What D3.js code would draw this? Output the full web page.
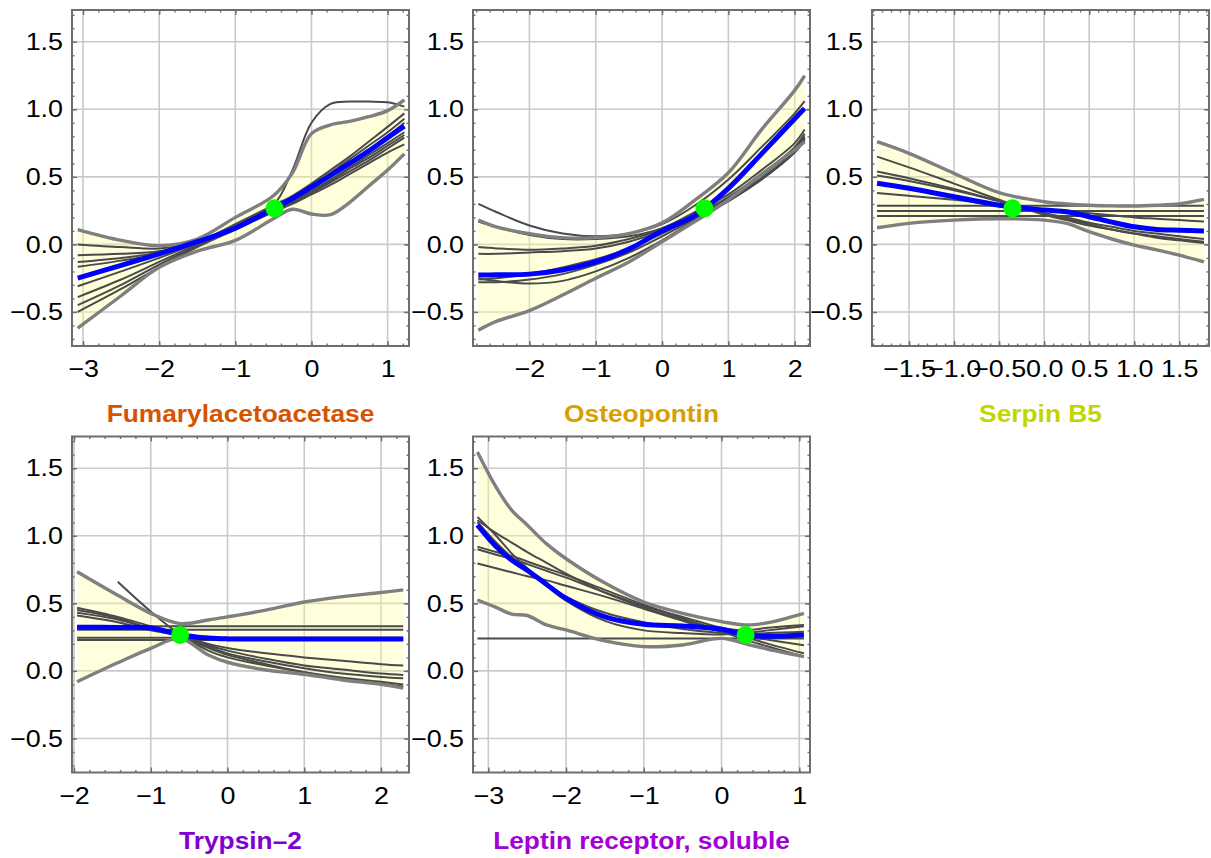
<!DOCTYPE html>
<html>
<head>
<meta charset="utf-8">
<script src="https://cdn.jsdelivr.net/npm/d3@7"></script>
<style>
body { margin: 0; background: #fff; }
text { font-family: "Liberation Sans", Arial, sans-serif; }
</style>
</head>
<body>
<script>
var w = 1211; // page width
var h = 858; // page height

// panel titles and colours
var titles = ["Fumarylacetoacetase", "Osteopontin", "Serpin B5", "Trypsin\u20132", "Leptin receptor, soluble"];
var titleColors = ["#d65300", "#d99e00", "#c0d600", "#8000d4", "#a200d4"];

// y axis, shared by every panel
var yTicks = [-0.5, 0, 0.5, 1, 1.5];
var yRange = [-0.752, 1.735];

// panel 1: Fumarylacetoacetase
var xTicks1 = [-3, -2, -1, 0, 1];
var xRange1 = [-3.145, 1.281];
var xs1 = [-3.07, -2.5, -2, -1.5, -1, -0.5, -0.25, 0, 0.25, 0.5, 0.75, 1, 1.22];
var blue1 = [-0.25, -0.155, -0.07, 0.02, 0.12, 0.265, 0.34, 0.425, 0.51, 0.6, 0.69, 0.79, 0.875];
var upper1 = [0.11, 0.03, -0.01, 0.04, 0.2, 0.36, 0.53, 0.82, 0.885, 0.91, 0.945, 0.99, 1.07];
var lower1 = [-0.62, -0.38, -0.17, -0.05, 0.03, 0.19, 0.26, 0.225, 0.22, 0.31, 0.43, 0.55, 0.67];
var thin1 = [
  [-0.50, -0.33, -0.17, -0.02, 0.11, 0.24, 0.30, 0.37, 0.44, 0.52, 0.60, 0.68, 0.74],
  [-0.45, -0.30, -0.15, -0.01, 0.12, 0.25, 0.31, 0.38, 0.46, 0.54, 0.62, 0.71, 0.79],
  [-0.39, -0.26, -0.13, 0.00, 0.13, 0.26, 0.32, 0.39, 0.47, 0.56, 0.64, 0.73, 0.81],
  [-0.31, -0.20, -0.10, 0.01, 0.13, 0.27, 0.33, 0.40, 0.48, 0.57, 0.66, 0.75, 0.83],
  [-0.165, -0.12, -0.07, 0.01, 0.13, 0.27, 0.34, 0.42, 0.51, 0.60, 0.70, 0.80, 0.90],
  [-0.13, -0.10, -0.06, 0.015, 0.14, 0.28, 0.35, 0.44, 0.53, 0.63, 0.73, 0.83, 0.93],
  [0.00, -0.02, -0.03, 0.02, 0.15, 0.29, 0.36, 0.45, 0.55, 0.65, 0.76, 0.87, 0.97],
  [-0.08, -0.07, -0.05, 0.01, 0.13, 0.29, 0.55, 0.90, 1.04, 1.057, 1.057, 1.052, 1.02]
];
var dot1 = [-0.485, 0.267];

// panel 2: Osteopontin
var xTicks2 = [-2, -1, 0, 1, 2];
var xRange2 = [-2.851, 2.231];
var xs2 = [-2.77, -2.5, -2, -1.5, -1, -0.5, 0, 0.5, 1, 1.5, 2, 2.15];
var blue2 = [-0.227, -0.225, -0.22, -0.19, -0.13, -0.035, 0.1, 0.215, 0.415, 0.67, 0.93, 1.007];
var upper2 = [0.18, 0.13, 0.08, 0.05, 0.05, 0.08, 0.16, 0.33, 0.53, 0.85, 1.14, 1.25];
var lower2 = [-0.635, -0.57, -0.49, -0.375, -0.25, -0.13, 0.02, 0.17, 0.33, 0.52, 0.7, 0.76];
var thin2 = [
  [0.30, 0.24, 0.14, 0.08, 0.06, 0.08, 0.15, 0.29, 0.48, 0.72, 0.97, 1.06],
  [0.17, 0.13, 0.07, 0.04, 0.04, 0.06, 0.12, 0.24, 0.37, 0.55, 0.75, 0.85],
  [-0.02, -0.03, -0.04, -0.03, -0.01, 0.04, 0.11, 0.22, 0.35, 0.52, 0.72, 0.82],
  [-0.07, -0.07, -0.06, -0.05, -0.03, 0.02, 0.10, 0.21, 0.34, 0.51, 0.71, 0.80],
  [-0.26, -0.25, -0.22, -0.17, -0.11, -0.03, 0.08, 0.20, 0.33, 0.49, 0.69, 0.78],
  [-0.28, -0.28, -0.26, -0.22, -0.15, -0.06, 0.06, 0.19, 0.32, 0.48, 0.68, 0.77],
  [-0.25, -0.27, -0.29, -0.27, -0.20, -0.10, 0.03, 0.18, 0.32, 0.48, 0.69, 0.79]
];
var dot2 = [0.64, 0.267];

// panel 3: Serpin B5
var xTicks3 = [-1.5, -1, -0.5, 0, 0.5, 1, 1.5];
var xRange3 = [-1.911, 1.830];
var xs3 = [-1.855, -1.5, -1, -0.5, 0, 0.25, 0.5, 0.75, 1, 1.25, 1.5, 1.774];
var blue3 = [0.452, 0.415, 0.353, 0.29, 0.254, 0.242, 0.205, 0.165, 0.13, 0.11, 0.105, 0.10];
var upper3 = [0.76, 0.674, 0.526, 0.383, 0.316, 0.30, 0.29, 0.285, 0.284, 0.29, 0.30, 0.333];
var lower3 = [0.123, 0.156, 0.18, 0.19, 0.18, 0.155, 0.094, 0.04, -0.005, -0.04, -0.08, -0.13];
var thin3 = [
  [0.65, 0.57, 0.45, 0.33, 0.22, 0.18, 0.14, 0.11, 0.08, 0.06, 0.04, 0.02],
  [0.54, 0.49, 0.41, 0.32, 0.23, 0.19, 0.15, 0.11, 0.08, 0.05, 0.03, 0.01],
  [0.51, 0.47, 0.40, 0.32, 0.23, 0.20, 0.16, 0.13, 0.10, 0.08, 0.06, 0.04],
  [0.38, 0.36, 0.33, 0.29, 0.26, 0.245, 0.23, 0.215, 0.20, 0.19, 0.18, 0.17],
  [0.287, 0.287, 0.287, 0.287, 0.287, 0.287, 0.287, 0.287, 0.287, 0.287, 0.287, 0.287],
  [0.248, 0.248, 0.248, 0.248, 0.248, 0.248, 0.248, 0.248, 0.248, 0.248, 0.248, 0.248],
  [0.21, 0.21, 0.21, 0.21, 0.21, 0.21, 0.21, 0.21, 0.21, 0.21, 0.21, 0.21]
];
var dot3 = [-0.352, 0.267];

// panel 4: Trypsin-2
var xTicks4 = [-2, -1, 0, 1, 2];
var xRange4 = [-2.026, 2.365];
var xs4 = [-1.96, -1.43, -1, -0.62, -0.25, 0, 0.5, 1, 1.5, 2, 2.29];
var blue4 = [0.323, 0.322, 0.318, 0.268, 0.243, 0.237, 0.237, 0.237, 0.237, 0.237, 0.236];
var upper4 = [0.734, 0.56, 0.426, 0.35, 0.377, 0.40, 0.45, 0.51, 0.55, 0.58, 0.60];
var lower4 = [-0.08, 0.06, 0.167, 0.24, 0.118, 0.064, 0.007, -0.025, -0.067, -0.1, -0.128];
var thin4 = [
  [0.468, 0.40, 0.33, 0.27, 0.20, 0.17, 0.13, 0.10, 0.075, 0.05, 0.04],
  [0.43, 0.38, 0.31, 0.26, 0.19, 0.15, 0.09, 0.04, 0.01, -0.02, -0.03],
  [0.41, 0.36, 0.30, 0.26, 0.18, 0.13, 0.07, 0.02, -0.02, -0.045, -0.055],
  [null, 0.66, 0.44, 0.27, 0.15, 0.10, 0.04, -0.01, -0.05, -0.08, -0.10],
  [0.45, 0.39, 0.31, 0.255, 0.17, 0.12, 0.05, -0.01, -0.06, -0.095, -0.115],
  [0.33, 0.33, 0.33, 0.33, 0.33, 0.33, 0.33, 0.33, 0.33, 0.33, 0.33],
  [0.305, 0.305, 0.305, 0.305, 0.305, 0.305, 0.305, 0.305, 0.305, 0.305, 0.305],
  [0.245, 0.245, 0.245, 0.245, 0.245, 0.245, 0.245, 0.245, 0.245, 0.245, 0.245],
  [0.228, 0.228, 0.228, 0.228, 0.228, 0.228, 0.228, 0.228, 0.228, 0.228, 0.228]
];
var dot4 = [-0.617, 0.266];

// panel 5: Leptin receptor, soluble
var xTicks5 = [-3, -2, -1, 0, 1];
var xRange5 = [-3.197, 1.138];
var xs5 = [-3.14, -2.9, -2.7, -2.5, -2.25, -2, -1.5, -1, -0.5, 0, 0.31, 0.6, 1.06];
var blue5 = [1.08, 0.92, 0.82, 0.745, 0.64, 0.537, 0.40, 0.345, 0.333, 0.308, 0.266, 0.256, 0.266];
var upper5 = [1.62, 1.36, 1.19, 1.08, 0.94, 0.83, 0.65, 0.51, 0.426, 0.365, 0.34, 0.357, 0.426];
var lower5 = [0.525, 0.47, 0.42, 0.41, 0.34, 0.303, 0.222, 0.18, 0.192, 0.241, 0.2, 0.16, 0.106];
var thin5 = [
  [1.14, 1.00, 0.87, 0.76, 0.63, 0.52, 0.37, 0.30, 0.28, 0.27, 0.28, 0.30, 0.33],
  [1.115, 1.02, 0.95, 0.88, 0.80, 0.72, 0.58, 0.47, 0.38, 0.30, 0.25, 0.20, 0.13],
  [0.92, 0.88, 0.85, 0.81, 0.76, 0.71, 0.60, 0.49, 0.39, 0.29, 0.23, 0.18, 0.106],
  [0.795, 0.76, 0.73, 0.70, 0.67, 0.63, 0.55, 0.46, 0.37, 0.29, 0.26, 0.23, 0.19],
  [0.90, 0.86, 0.83, 0.79, 0.74, 0.69, 0.58, 0.48, 0.40, 0.32, 0.30, 0.32, 0.34],
  [0.24, 0.24, 0.24, 0.24, 0.24, 0.24, 0.24, 0.24, 0.24, 0.24, 0.24, 0.24, 0.24],
  [1.10, 0.95, 0.84, 0.74, 0.64, 0.55, 0.43, 0.36, 0.31, 0.28, 0.27, 0.28, 0.29]
];
var dot5 = [0.31, 0.266];

// table the drawing loop walks over
var panels = [
  { xs: xs1, blue: blue1, upper: upper1, lower: lower1, thin: thin1, dot: dot1, xTicks: xTicks1, xRange: xRange1, minor: 0.2, fmt: "d" },
  { xs: xs2, blue: blue2, upper: upper2, lower: lower2, thin: thin2, dot: dot2, xTicks: xTicks2, xRange: xRange2, minor: 0.2, fmt: "d" },
  { xs: xs3, blue: blue3, upper: upper3, lower: lower3, thin: thin3, dot: dot3, xTicks: xTicks3, xRange: xRange3, minor: 0.1, fmt: ".1f" },
  { xs: xs4, blue: blue4, upper: upper4, lower: lower4, thin: thin4, dot: dot4, xTicks: xTicks4, xRange: xRange4, minor: 0.2, fmt: "d" },
  { xs: xs5, blue: blue5, upper: upper5, lower: lower5, thin: thin5, dot: dot5, xTicks: xTicks5, xRange: xRange5, minor: 0.2, fmt: "d" }
];

// frame positions (left, top) and size
var frames = [[72, 10], [473, 10], [872, 10], [72, 436.5], [473, 436.5]];
var fw = 337, fh = 336;
var stretch = 1.12; // text in the picture is drawn a little wide

var svg = d3.select("body").append("svg").attr("width", w).attr("height", h);

// minor tick values between lo and hi
function minorTicks(lo, hi, step) {
  return d3.range(Math.ceil(lo / step - 1e-9), Math.floor(hi / step + 1e-9) + 1).map(function (k) { return +(k * step).toFixed(3); });
}

function styleAxis(sel) {
  sel.select(".domain").remove();
  sel.selectAll("line").attr("stroke", "#6e6e6e").attr("stroke-width", 1.4);
  sel.selectAll("text").attr("font-size", 24).attr("fill", "#000")
    .attr("font-family", "'Liberation Sans', Arial, sans-serif")
    .attr("transform", "scale(" + stretch + ",1)");
}

panels.forEach(function (p, i) {
  var left = frames[i][0], top = frames[i][1];
  var x = d3.scaleLinear().domain(p.xRange).range([left, left + fw]);
  var y = d3.scaleLinear().domain(yRange).range([top + fh, top]);
  var g = svg.append("g");

  // grid lines
  g.selectAll(".vg").data(p.xTicks).enter().append("line")
    .attr("x1", function (d) { return x(d); }).attr("x2", function (d) { return x(d); })
    .attr("y1", top).attr("y2", top + fh)
    .attr("stroke", "#cacaca").attr("stroke-width", 1.6);
  g.selectAll(".hg").data(yTicks).enter().append("line")
    .attr("y1", function (d) { return y(d); }).attr("y2", function (d) { return y(d); })
    .attr("x1", left).attr("x2", left + fw)
    .attr("stroke", "#cacaca").attr("stroke-width", 1.6);

  // clip to frame
  svg.append("clipPath").attr("id", "clip" + i).append("rect")
    .attr("x", left).attr("y", top).attr("width", fw).attr("height", fh);
  var plot = g.append("g").attr("clip-path", "url(#clip" + i + ")");

  var curve = d3.curveCatmullRom.alpha(0.5);
  var line = d3.line()
    .defined(function (d) { return d[1] != null; })
    .x(function (d) { return x(d[0]); })
    .y(function (d) { return y(d[1]); })
    .curve(curve);
  var area = d3.area()
    .x(function (d) { return x(d[0]); })
    .y0(function (d) { return y(d[1]); })
    .y1(function (d) { return y(d[2]); })
    .curve(curve);
  function pts(ys) { return p.xs.map(function (xv, k) { return [xv, ys[k]]; }); }

  // confidence band
  plot.append("path")
    .datum(p.xs.map(function (xv, k) { return [xv, p.lower[k], p.upper[k]]; }))
    .attr("d", area).attr("fill", "#ffff99").attr("fill-opacity", 0.35);

  // individual curves
  plot.selectAll(".thin").data(p.thin).enter().append("path")
    .attr("d", function (d) { return line(pts(d)); })
    .attr("fill", "none").attr("stroke", "#4a4a4a").attr("stroke-width", 2);

  // band edges
  [p.upper, p.lower].forEach(function (ys) {
    plot.append("path").attr("d", line(pts(ys)))
      .attr("fill", "none").attr("stroke", "#7f7f7f").attr("stroke-width", 3.4);
  });

  // mean curve
  plot.append("path").attr("d", line(pts(p.blue)))
    .attr("fill", "none").attr("stroke", "#0000ff").attr("stroke-width", 5);

  // current value
  plot.append("circle").attr("cx", x(p.dot[0])).attr("cy", y(p.dot[1])).attr("r", 9).attr("fill", "#00ff00");

  // frame ticks, inward on all four sides
  var xMinor = minorTicks(p.xRange[0], p.xRange[1], p.minor);
  var yMinor = minorTicks(yRange[0], yRange[1], 0.1);
  var fmt = d3.format(p.fmt);

  g.append("g").attr("transform", "translate(0," + (top + fh) + ")")
    .call(d3.axisBottom(x).tickValues(xMinor).tickSize(-2.5).tickFormat("")).call(styleAxis);
  g.append("g").attr("transform", "translate(0," + (top + fh) + ")")
    .call(d3.axisBottom(x).tickValues(p.xTicks).tickSize(-5).tickPadding(14).tickFormat(fmt)).call(styleAxis);
  g.append("g").attr("transform", "translate(0," + top + ")")
    .call(d3.axisTop(x).tickValues(xMinor).tickSize(-2.5).tickFormat("")).call(styleAxis);
  g.append("g").attr("transform", "translate(0," + top + ")")
    .call(d3.axisTop(x).tickValues(p.xTicks).tickSize(-5).tickFormat("")).call(styleAxis);

  g.append("g").attr("transform", "translate(" + left + ",0)")
    .call(d3.axisLeft(y).tickValues(yMinor).tickSize(-2.5).tickFormat("")).call(styleAxis);
  g.append("g").attr("transform", "translate(" + left + ",0)")
    .call(d3.axisLeft(y).tickValues(yTicks).tickSize(-5).tickPadding(9 / stretch).tickFormat(d3.format(".1f"))).call(styleAxis);
  g.append("g").attr("transform", "translate(" + (left + fw) + ",0)")
    .call(d3.axisRight(y).tickValues(yMinor).tickSize(-2.5).tickFormat("")).call(styleAxis);
  g.append("g").attr("transform", "translate(" + (left + fw) + ",0)")
    .call(d3.axisRight(y).tickValues(yTicks).tickSize(-5).tickFormat("")).call(styleAxis);

  // frame
  g.append("rect").attr("x", left).attr("y", top).attr("width", fw).attr("height", fh)
    .attr("fill", "none").attr("stroke", "#6e6e6e").attr("stroke-width", 2);

  // title
  g.append("text").text(titles[i])
    .attr("transform", "translate(" + (left + fw / 2) + "," + (top + fh + 76) + ") scale(" + stretch + ",1)")
    .attr("text-anchor", "middle").attr("font-size", 23.5).attr("font-weight", "bold")
    .attr("fill", titleColors[i]);
});
</script>
</body>
</html>
